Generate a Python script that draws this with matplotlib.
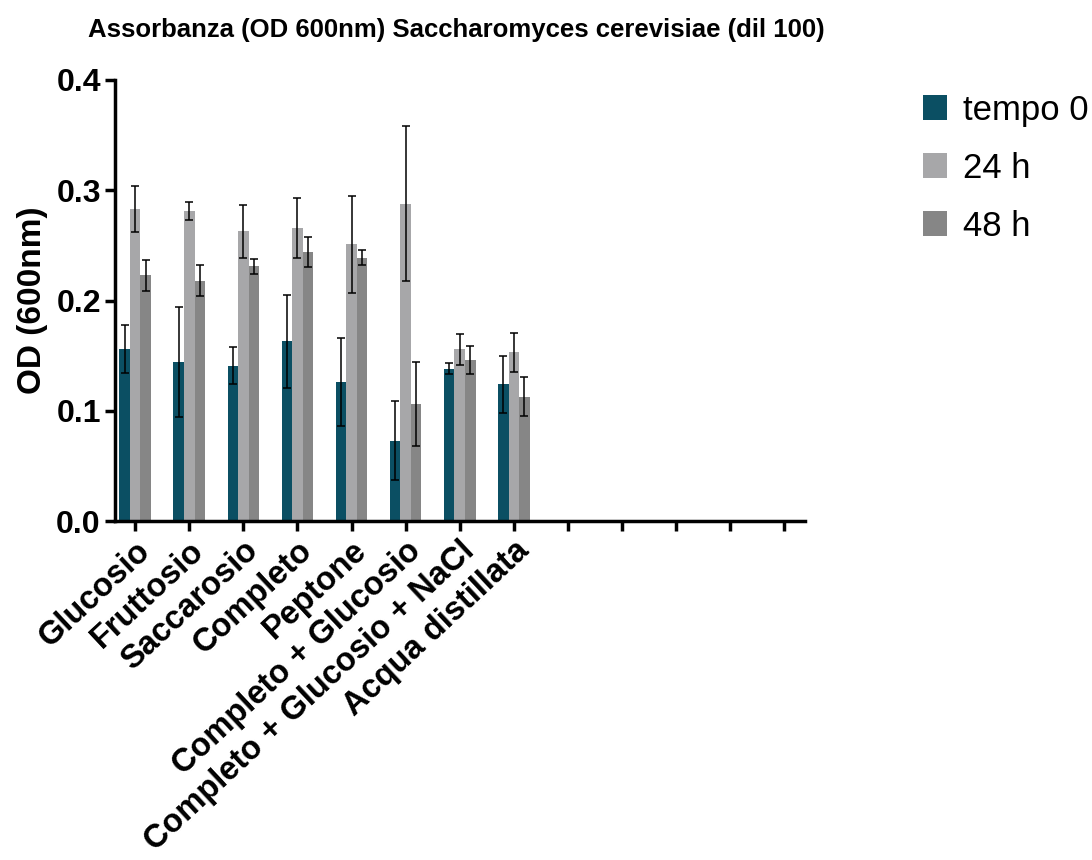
import numpy as np
import matplotlib
matplotlib.use("Agg")
import matplotlib.pyplot as plt

plt.rcParams['font.family'] = ['Liberation Sans', 'DejaVu Sans']

# categories (13 slots on the axis, only 8 used)
categories = ["Glucosio", "Fruttosio", "Saccarosio", "Completo", "Peptone",
              "Completo + Glucosio", "Completo + Glucosio + NaCl", "Acqua distillata",
              "", "", "", "", ""]
series = ["tempo 0", "24 h", "48 h"]

tempo0 = [0.156, 0.144, 0.141, 0.163, 0.126, 0.073, 0.138, 0.124]
h24 = [0.283, 0.281, 0.263, 0.266, 0.251, 0.288, 0.156, 0.153]
h48 = [0.223, 0.218, 0.231, 0.244, 0.239, 0.106, 0.146, 0.113]

err_t0 = [0.022, 0.050, 0.017, 0.042, 0.040, 0.036, 0.005, 0.026]
err_24 = [0.021, 0.008, 0.024, 0.027, 0.044, 0.070, 0.014, 0.018]
err_48 = [0.014, 0.014, 0.007, 0.014, 0.007, 0.038, 0.013, 0.018]

colors = ["#0b4f63", "#a7a7a9", "#868686"]

fig = plt.figure(figsize=(10.92, 8.6), dpi=100)
ax = fig.add_axes([0.105, 0.394, 0.632, 0.513])

x = np.arange(len(tempo0))
w = 0.195
values = [tempo0, h24, h48]
errs = [err_t0, err_24, err_48]
for i, (vals, err) in enumerate(zip(values, errs)):
    ax.bar(x + (i - 1) * w, vals, width=w, color=colors[i], label=series[i], zorder=2)
    ax.errorbar(x + (i - 1) * w, vals, yerr=err, fmt='none', ecolor='black',
                elinewidth=1.1, capsize=3, capthick=1.1, zorder=3)

ax.set_xlim(-0.38, len(categories) - 1 + 0.38)
ax.set_ylim(0, 0.4)
ax.set_yticks([0.0, 0.1, 0.2, 0.3, 0.4])
ax.set_yticklabels(["0.0", "0.1", "0.2", "0.3", "0.4"])
ax.set_xticks(np.arange(len(categories)))
ax.set_xticklabels(categories, rotation=43, ha='right', va='top', rotation_mode='anchor')

for lab in ax.get_yticklabels():
    lab.set_fontsize(23)
    lab.set_fontweight('bold')
for lab in ax.get_xticklabels():
    lab.set_fontsize(23.5)
    lab.set_fontweight('bold')

ax.spines['top'].set_visible(False)
ax.spines['right'].set_visible(False)
ax.spines['left'].set_linewidth(2.5)
ax.spines['bottom'].set_linewidth(2.5)
ax.tick_params(axis='both', direction='out', length=7, width=2.5, pad=3)

ax.set_ylabel("OD (600nm)", fontsize=24, fontweight='bold', labelpad=6)

fig.text(0.081, 0.965, "Assorbanza (OD 600nm) Saccharomyces cerevisiae (dil 100)",
         fontsize=18.5, fontweight='bold', ha='left', va='center')

fig.legend(loc='upper left', bbox_to_anchor=(0.845, 0.891), frameon=False,
           fontsize=25, handlelength=0.7, handleheight=0.7, handletextpad=0.45,
           labelspacing=0.72, borderpad=0, borderaxespad=0)

fig.savefig("out.png", dpi=100)
